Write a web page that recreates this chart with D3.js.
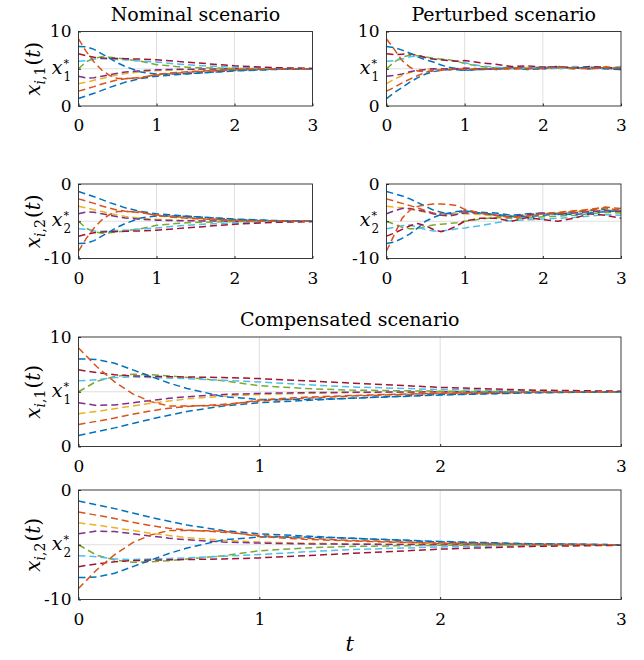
<!DOCTYPE html>
<html><head><meta charset="utf-8">
<script src="https://cdn.jsdelivr.net/npm/d3@7"></script>
<style>body{margin:0;background:#fff}svg{display:block}</style>
</head><body><svg id="c" width="644" height="660"></svg>
<script>
// ---------------- data ----------------
const agentColors = ["#0072BD","#D95319","#EDB120","#7E2F8E","#77AC30","#4DBEEE","#A2142F","#0072BD","#D95319"];
const xTicks = [0, 1, 2, 3];
const x1Ticks = [0, 5, 10];      // 5 = x1*
const x2Ticks = [-10, -5, 0];    // -5 = x2*
const x1Star = 5, x2Star = -5;

const tNom = [0,0.1,0.2,0.3,0.4,0.5,0.6,0.8,1.0,1.25,1.5,2.0,2.5,3.0];
const nomX1 = [
  [1,1.35,1.7,2.1,2.5,2.85,3.2,3.7,4.0,4.2,4.4,4.75,4.92,5.0],
  [2,2.3,2.6,2.95,3.25,3.5,3.65,3.85,4.15,4.4,4.6,4.85,4.96,5.0],
  [3,3.2,3.45,3.7,3.95,4.15,4.35,4.6,4.75,4.85,4.92,4.98,5.0,5.0],
  [4,3.75,3.8,4.0,4.2,4.4,4.55,4.75,4.85,4.92,4.95,5.0,5.0,5.0],
  [5,5.95,6.4,6.6,6.55,6.45,6.3,6.0,5.55,5.3,5.15,5.05,5.0,5.0],
  [6,6.1,6.3,6.35,6.3,6.25,6.2,6.05,5.9,5.65,5.45,5.2,5.07,5.02],
  [7,6.75,6.55,6.45,6.4,6.38,6.35,6.3,6.2,6.0,5.8,5.4,5.15,5.05],
  [8,7.95,7.6,7.0,6.4,5.8,5.3,4.55,4.3,4.3,4.4,4.7,4.9,5.0],
  [9,7.3,5.9,4.8,4.1,3.7,3.7,3.75,4.25,4.5,4.65,4.88,4.97,5.0]
];
const nomX2 = [
  [-1,-1.35,-1.7,-2.1,-2.5,-2.85,-3.2,-3.7,-4.0,-4.2,-4.4,-4.75,-4.92,-5.0],
  [-2,-2.3,-2.6,-2.95,-3.25,-3.5,-3.65,-3.85,-4.15,-4.4,-4.6,-4.85,-4.96,-5.0],
  [-3,-3.2,-3.45,-3.7,-3.95,-4.15,-4.35,-4.6,-4.75,-4.85,-4.92,-4.98,-5.0,-5.0],
  [-4,-3.75,-3.8,-4.0,-4.2,-4.4,-4.55,-4.75,-4.85,-4.92,-4.95,-5.0,-5.0,-5.0],
  [-5,-5.95,-6.4,-6.6,-6.55,-6.45,-6.3,-6.0,-5.55,-5.3,-5.15,-5.05,-5.0,-5.0],
  [-6,-6.1,-6.3,-6.35,-6.3,-6.25,-6.2,-6.05,-5.9,-5.65,-5.45,-5.2,-5.07,-5.02],
  [-7,-6.75,-6.55,-6.45,-6.4,-6.38,-6.35,-6.3,-6.2,-6.0,-5.8,-5.4,-5.15,-5.05],
  [-8,-7.95,-7.6,-7.0,-6.4,-5.8,-5.3,-4.55,-4.3,-4.3,-4.4,-4.7,-4.9,-5.0],
  [-9,-7.3,-5.9,-4.8,-4.1,-3.7,-3.7,-3.75,-4.25,-4.5,-4.65,-4.88,-4.97,-5.0]
];

const tPert = [0,0.1,0.2,0.3,0.4,0.5,0.6,0.7,0.8,0.9,1.0,1.2,1.4,1.6,1.8,2.0,2.2,2.4,2.6,2.8,3.0];
const pertX1 = [
  [1,1.8,2.5,3.2,3.8,4.3,4.6,4.8,4.9,4.85,4.8,4.9,5.0,5.1,4.9,5.0,5.2,5.1,5.0,5.1,5.0],
  [2,2.5,3.1,3.6,4.1,4.5,4.8,4.9,4.9,5.0,4.9,5.0,5.1,4.9,5.1,5.2,5.1,5.0,5.2,5.1,5.0],
  [3,3.6,4.1,4.5,4.75,4.9,5.0,4.9,5.0,5.05,5.0,4.9,5.1,5.0,5.2,5.1,5.0,5.2,5.1,5.3,5.1],
  [4,4.1,4.3,4.6,4.8,4.9,5.0,4.95,5.0,5.0,5.1,5.0,4.9,5.1,5.2,5.0,5.1,5.2,5.0,5.1,4.9],
  [5,5.9,6.6,6.8,6.75,6.6,6.4,6.3,6.2,6.0,5.7,5.3,5.1,5.2,5.0,5.1,5.2,5.0,5.1,5.0,5.2],
  [6,6.1,6.3,6.6,6.7,6.5,6.3,6.2,6.1,6.0,5.8,5.4,5.2,5.0,5.1,5.2,5.0,5.3,5.2,5.1,5.3],
  [7,6.9,6.95,7.0,6.8,6.5,6.3,6.2,6.1,6.0,6.1,5.8,5.6,5.3,5.4,5.2,5.3,5.1,5.3,5.2,5.0],
  [8,7.85,7.5,7.1,6.6,6.2,5.9,5.5,5.2,5.0,4.8,4.9,4.95,5.1,5.0,5.2,5.3,5.1,5.2,5.0,4.9],
  [9,7.6,6.1,5.2,4.7,4.6,4.7,4.8,4.9,4.95,4.9,5.0,4.9,5.1,5.0,5.1,5.2,5.1,5.0,5.2,5.1]
];
const pertX2 = [
  [-1,-1.3,-1.6,-2.0,-2.5,-3.0,-3.5,-3.8,-4.0,-3.9,-3.6,-3.8,-3.9,-4.2,-4.0,-3.9,-4.1,-3.8,-3.6,-3.4,-3.5],
  [-2,-2.3,-2.6,-2.9,-3.2,-3.6,-3.9,-4.0,-4.1,-4.0,-3.7,-3.9,-4.2,-4.5,-4.3,-4.0,-3.8,-3.6,-3.4,-3.1,-3.3],
  [-3,-3.1,-3.2,-3.4,-3.6,-3.8,-4.0,-4.1,-4.1,-4.0,-4.0,-4.1,-4.3,-4.4,-4.2,-4.0,-3.9,-3.8,-3.6,-3.5,-3.6],
  [-4,-3.6,-3.3,-3.3,-3.5,-3.7,-4.0,-4.2,-4.3,-4.1,-3.9,-3.9,-4.2,-4.4,-4.1,-3.9,-4.0,-3.9,-3.7,-3.6,-3.7],
  [-5,-5.4,-5.8,-6.0,-6.0,-5.7,-5.5,-5.4,-5.3,-5.2,-5.0,-4.7,-4.5,-4.6,-4.6,-4.4,-4.3,-4.2,-4.0,-3.8,-3.9],
  [-6,-5.8,-5.6,-5.5,-5.8,-6.1,-6.3,-6.3,-6.2,-6.0,-5.9,-5.6,-5.2,-4.9,-4.8,-4.7,-4.6,-4.5,-4.3,-4.1,-4.2],
  [-7,-6.6,-6.1,-5.6,-5.3,-5.6,-6.1,-6.4,-6.1,-5.6,-5.0,-4.6,-4.6,-5.0,-4.5,-4.8,-5.0,-4.6,-4.0,-4.2,-4.6],
  [-8,-7.8,-7.3,-6.7,-5.9,-5.0,-4.5,-4.1,-3.9,-3.7,-3.6,-3.9,-4.1,-4.3,-4.4,-4.2,-4.0,-4.1,-3.9,-3.7,-3.6],
  [-9,-6.8,-4.6,-3.5,-3.0,-2.8,-2.7,-2.7,-2.75,-2.9,-3.4,-3.9,-4.2,-4.5,-4.3,-4.0,-3.9,-3.7,-3.5,-3.2,-3.6]
];

// compensated scenario reproduces the nominal trajectories
const tComp = tNom;
const compX1 = nomX1;
const compX2 = nomX2;

// ---------------- drawing ----------------
const svg = d3.select("#c");
const FONT = "DejaVu Serif";
const BOX = "#262626";

const panels = [
  {x0:78.5, x1:312.5, y0:31.5, y1:106, t:tNom, data:nomX1, ticks:x1Ticks, star:x1Star, comp:1, title:"Nominal scenario", ylab:true},
  {x0:386.5, x1:621, y0:31.5, y1:106, t:tPert, data:pertX1, ticks:x1Ticks, star:x1Star, comp:1, title:"Perturbed scenario", ylab:false},
  {x0:78.5, x1:312.5, y0:184, y1:258.5, t:tNom, data:nomX2, ticks:x2Ticks, star:x2Star, comp:2, ylab:true},
  {x0:386.5, x1:621, y0:184, y1:258.5, t:tPert, data:pertX2, ticks:x2Ticks, star:x2Star, comp:2, ylab:false},
  {x0:78.5, x1:621, y0:337, y1:446.5, t:tComp, data:compX1, ticks:x1Ticks, star:x1Star, comp:1, title:"Compensated scenario", ylab:true},
  {x0:78.5, x1:621, y0:490, y1:599.5, t:tComp, data:compX2, ticks:x2Ticks, star:x2Star, comp:2, ylab:true}
];

panels.forEach(p => {
  const x = d3.scaleLinear().domain([0, 3]).range([p.x0, p.x1]);
  const y = d3.scaleLinear().domain([p.ticks[0], p.ticks[2]]).range([p.y1, p.y0]);
  const g = svg.append("g");

  // grid
  g.selectAll(".gx").data(xTicks.slice(1, 3)).enter().append("line")
    .attr("x1", d => x(d)).attr("x2", d => x(d)).attr("y1", p.y0).attr("y2", p.y1)
    .attr("stroke", "#dfdfdf").attr("stroke-width", 1);
  g.append("line").attr("x1", p.x0).attr("x2", p.x1).attr("y1", y(p.star)).attr("y2", y(p.star))
    .attr("stroke", "#dfdfdf").attr("stroke-width", 1);

  // lines
  const line = d3.line().x((d, i) => x(p.t[i])).y(d => y(d));
  p.data.forEach((series, k) => {
    g.append("path").attr("d", line(series)).attr("fill", "none")
      .attr("stroke", agentColors[k]).attr("stroke-width", 1.5)
      .attr("stroke-dasharray", "7,4");
  });

  // box
  g.append("rect").attr("x", p.x0).attr("y", p.y0).attr("width", p.x1 - p.x0).attr("height", p.y1 - p.y0)
    .attr("fill", "none").attr("stroke", BOX).attr("stroke-width", 0.9);

  // x axis
  const ax = g.append("g").attr("transform", `translate(0,${p.y1})`)
    .call(d3.axisBottom(x).tickValues(xTicks).tickSize(-2.5).tickPadding(13).tickFormat(d3.format("d")));
  ax.select(".domain").remove();
  ax.selectAll("line").attr("stroke", BOX);
  ax.selectAll("text").style("font-family", FONT).style("font-size", "17px").attr("fill", "#000");

  // y axis
  const ay = g.append("g").attr("transform", `translate(${p.x0},0)`)
    .call(d3.axisLeft(y).tickValues(p.ticks).tickSize(-2.5).tickPadding(7)
      .tickFormat(d => d === p.star ? "" : String(d)));
  ay.select(".domain").remove();
  ay.selectAll("line").attr("stroke", BOX);
  ay.selectAll("text").style("font-family", FONT).style("font-size", "17px").attr("fill", "#000");

  // x* label
  const ys = y(p.star);
  const lx = p.x0 - 16;
  g.append("text").attr("x", lx).attr("y", ys + 5).attr("text-anchor", "end")
    .style("font-family", FONT).style("font-style", "italic").style("font-size", "19px").attr("fill", "#000").text("x");
  g.append("text").attr("x", lx + 1).attr("y", ys - 2)
    .style("font-family", FONT).style("font-size", "11px").attr("fill", "#000").text("*");
  g.append("text").attr("x", lx + 1).attr("y", ys + 12)
    .style("font-family", FONT).style("font-size", "12px").attr("fill", "#000").text(String(p.comp));

  // title
  if (p.title) {
    g.append("text").attr("x", (p.x0 + p.x1) / 2).attr("y", p.y0 - 11).attr("text-anchor", "middle")
      .style("font-family", FONT).style("font-size", "19px").attr("fill", "#000").text(p.title);
  }

  // y label
  if (p.ylab) {
    const cy = (p.y0 + p.y1) / 2;
    const t = g.append("text").attr("transform", `translate(40,${cy}) rotate(-90)`)
      .attr("text-anchor", "middle").style("font-family", FONT).style("font-size", "20px").attr("fill", "#000");
    t.append("tspan").style("font-style", "italic").text("x");
    t.append("tspan").style("font-size", "14px").attr("dy", 4.5).style("font-style", "italic").text("i");
    t.append("tspan").style("font-size", "14px").text(",");
    t.append("tspan").style("font-size", "14px").text(String(p.comp));
    t.append("tspan").attr("dy", -4.5).attr("dx", 1).text("(");
    t.append("tspan").style("font-style", "italic").text("t");
    t.append("tspan").text(")");
  }
});

// x label
svg.append("text").attr("x", (78.5 + 621) / 2).attr("y", 651).attr("text-anchor", "middle")
  .style("font-family", FONT).style("font-style", "italic").style("font-size", "21px").attr("fill", "#000").text("t");
</script>
</body></html>
